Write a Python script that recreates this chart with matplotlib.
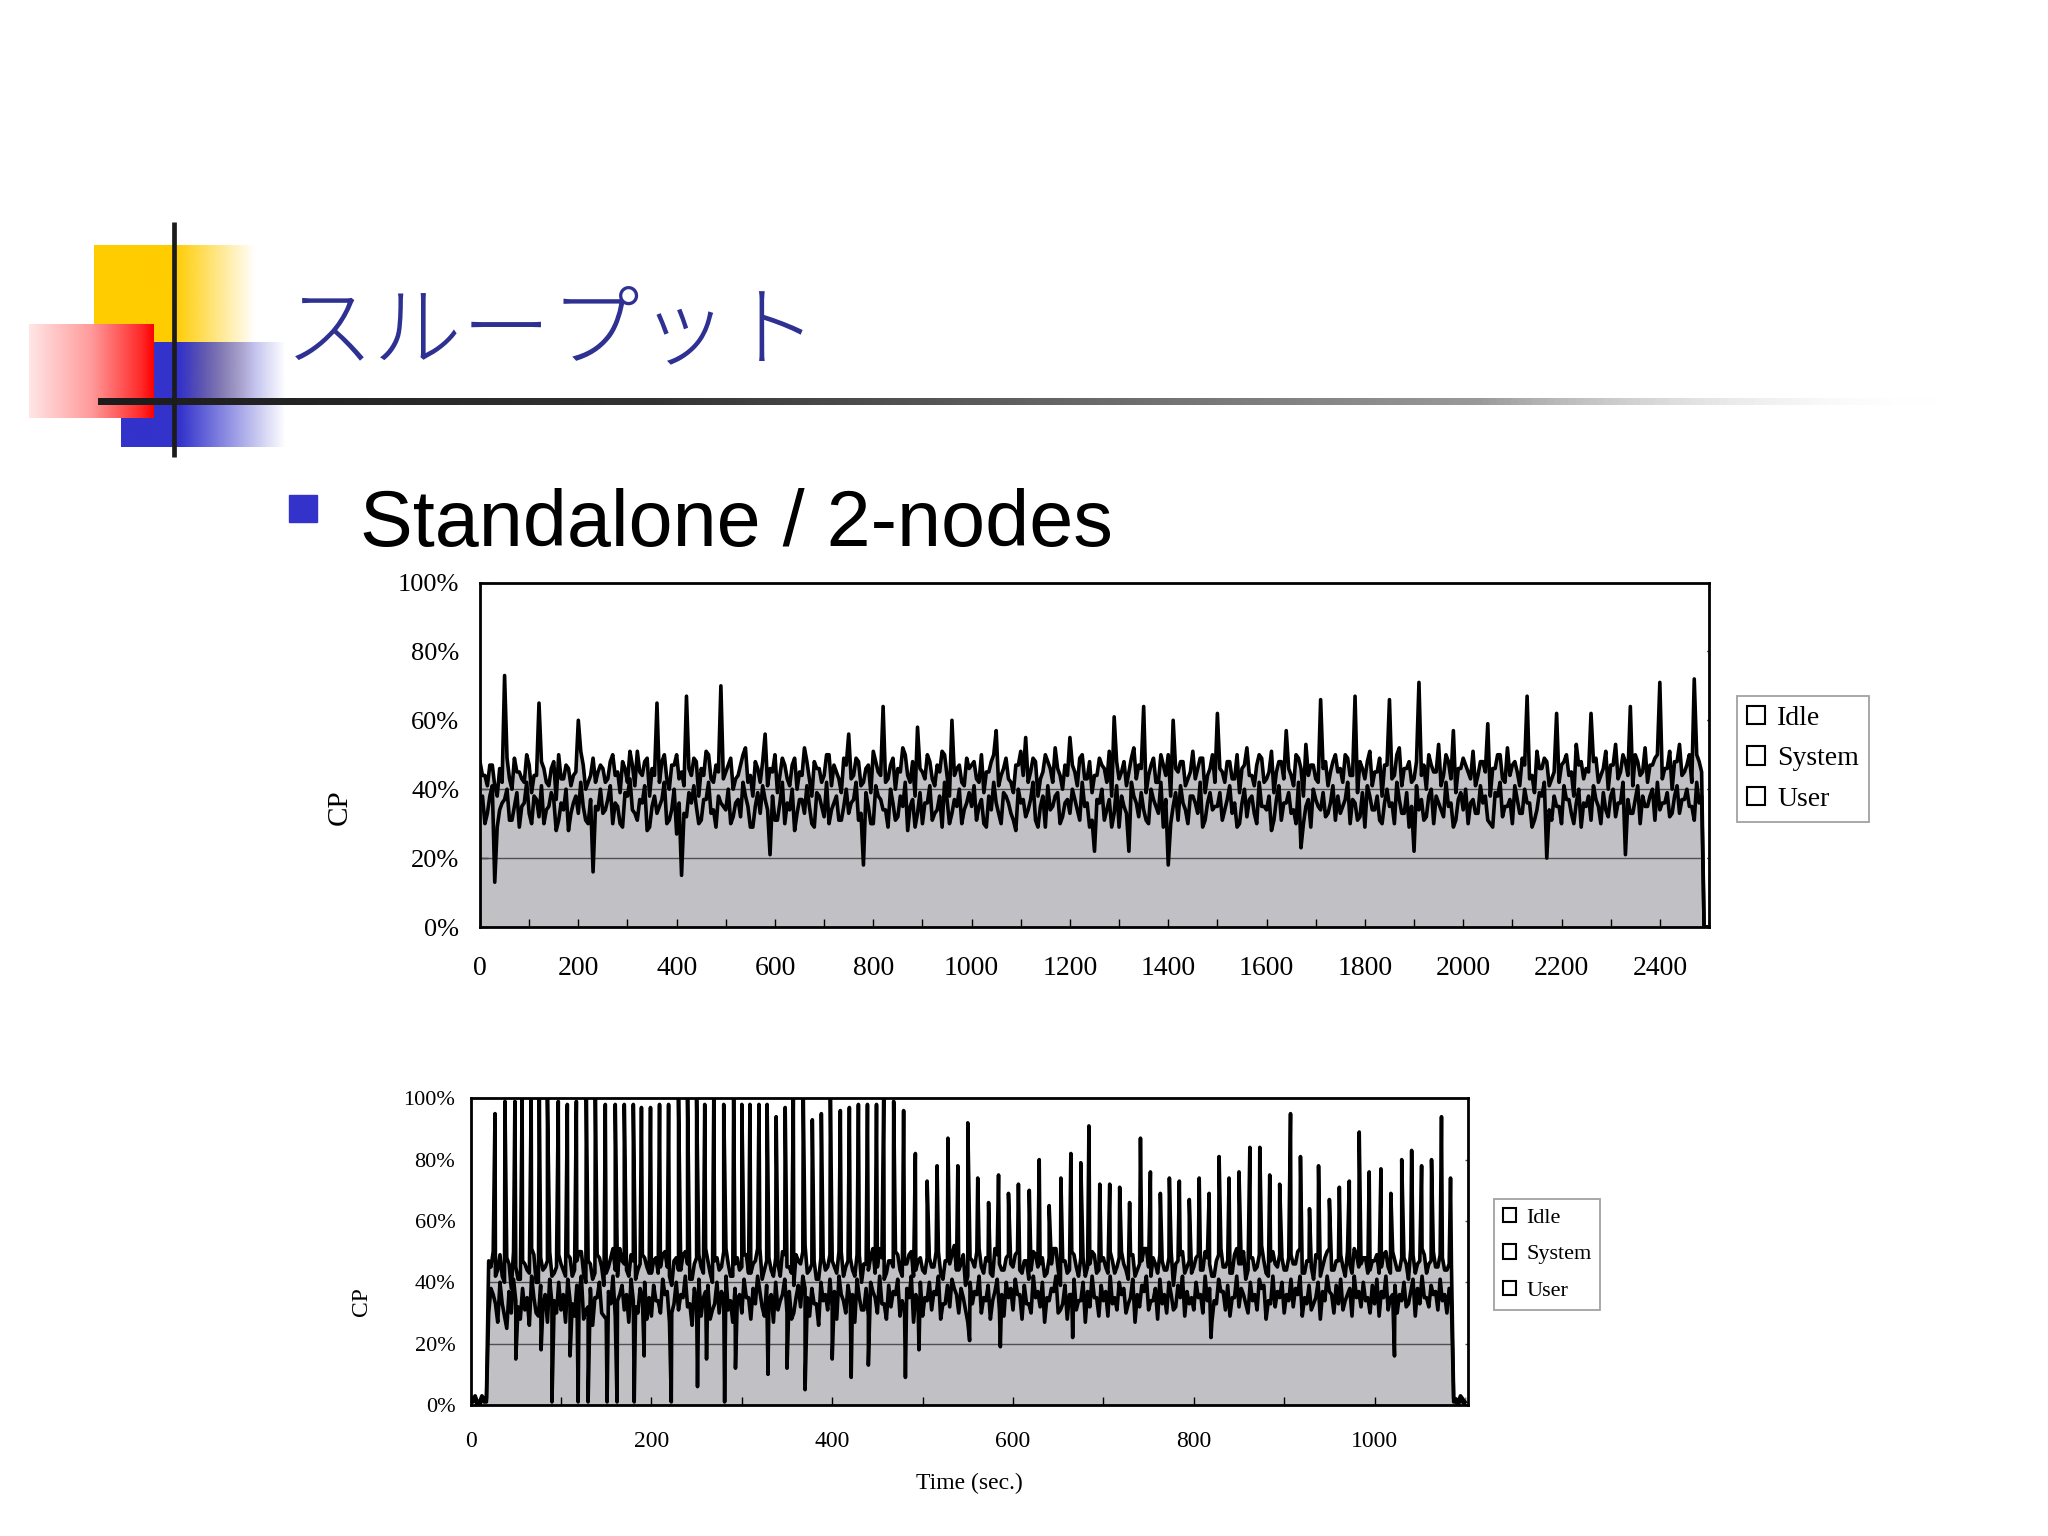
import numpy as np
import matplotlib
matplotlib.use('Agg')
import matplotlib.pyplot as plt
from matplotlib.patches import Patch, Rectangle
from matplotlib.colors import LinearSegmentedColormap
from matplotlib.ticker import MultipleLocator

# ---- data: standalone run (percent), samples at t = 0, 10, 20 ... ----
total_a = [48, 44, 47, 41, 46, 73, 43, 49, 45, 42, 47, 44, 65, 46, 41, 48, 50, 43, 46, 44, 60, 47, 42, 49, 45,
           46, 43, 50, 45, 48, 42, 47, 51, 44, 49, 46, 65, 48, 43, 47, 50, 45, 67, 44, 48, 46, 51, 43, 47, 70,
           45, 49, 43, 47, 52, 44, 48, 42, 56, 46, 50, 44, 47, 41, 49, 45, 52, 43, 48, 46, 44, 50, 47, 43, 49,
           56, 44, 48, 42, 47, 51, 45, 64, 43, 49, 46, 52, 44, 48, 58, 45, 50, 43, 47, 51, 44, 60, 46, 42, 49,
           47, 43, 50, 45, 48, 57, 44, 49, 42, 47, 51, 55, 45, 48, 43, 50, 46, 52, 44, 47, 55, 45, 49, 43, 48,
           44, 49, 46, 51, 61, 43, 48, 45, 52, 47, 64, 44, 49, 42, 47, 50, 60, 45, 48, 43, 51, 46, 49, 44, 50,
           62, 45, 48, 43, 50, 46, 52, 44, 47, 49, 43, 51, 45, 48, 57, 44, 50, 46, 53, 47, 43, 66, 48, 45, 50,
           46, 50, 44, 67, 48, 43, 51, 45, 49, 47, 66, 44, 52, 46, 48, 43, 71, 47, 50, 45, 53, 44, 48, 57, 46,
           49, 45, 51, 44, 48, 59, 46, 50, 43, 52, 47, 45, 49, 67, 44, 51, 46, 48, 43, 62, 47, 50, 45, 53, 48,
           46, 62, 49, 44, 51, 47, 53, 45, 48, 64, 50, 44, 52, 47, 49, 71, 46, 51, 48, 53, 45, 50, 72, 48, 0]
user_a = [36, 30, 38, 13, 34, 37, 31, 35, 29, 36, 33, 38, 32, 30, 35, 37, 31, 34, 28, 36, 33, 35, 30, 16, 34,
          33, 37, 30, 35, 29, 38, 34, 31, 36, 28, 35, 33, 37, 30, 34, 27, 15, 32, 36, 35, 31, 37, 33, 29, 36,
          34, 30, 36, 32, 38, 29, 35, 33, 37, 21, 31, 36, 30, 34, 28, 37, 33, 35, 29, 38, 32, 30, 36, 31, 35,
          33, 37, 31, 18, 35, 30, 38, 34, 29, 36, 32, 35, 28, 37, 33, 30, 36, 31, 34, 29, 37, 33, 35, 30, 36,
          35, 31, 37, 29, 34, 36, 30, 38, 33, 28, 36, 32, 37, 31, 35, 29, 34, 38, 30, 36, 33, 37, 31, 35, 29,
          22, 36, 31, 37, 33, 29, 35, 22, 38, 32, 34, 30, 37, 33, 29, 18, 35, 31, 36, 30, 38, 33, 29, 36, 34,
          35, 31, 37, 33, 29, 36, 32, 38, 30, 35, 34, 28, 37, 31, 36, 33, 30, 23, 35, 29, 37, 34, 32, 36, 31,
          33, 37, 30, 36, 32, 29, 38, 34, 31, 36, 35, 30, 37, 33, 29, 22, 34, 31, 38, 30, 36, 32, 35, 29, 37,
          34, 30, 37, 33, 36, 31, 29, 38, 32, 35, 30, 37, 33, 36, 29, 34, 38, 20, 31, 35, 30, 37, 33, 36, 29,
          35, 31, 37, 30, 34, 38, 32, 36, 21, 33, 37, 30, 35, 38, 31, 34, 36, 32, 38, 33, 37, 35, 31, 36, 0]
# standalone run, samples in between at t = 5, 15, 25 ...
total_a_mid = [44, 41, 47, 38, 42, 49, 40, 45, 43, 50, 39, 44, 48, 42, 46, 37, 43, 47, 41, 45, 51, 40, 44, 42, 47,
               42, 48, 44, 39, 46, 51, 41, 45, 48, 38, 44, 42, 50, 40, 47, 43, 41, 46, 49, 38, 44, 50, 42, 45, 43,
               47, 40, 44, 50, 42, 38, 46, 48, 41, 45, 39, 49, 43, 47, 40, 44, 48, 38, 46, 42, 50, 41, 45, 39, 47,
               43, 49, 41, 46, 39, 48, 44, 42, 47, 40, 45, 50, 42, 38, 46, 43, 48, 41, 45, 50, 38, 44, 47, 41, 46,
               48, 42, 39, 45, 50, 41, 46, 43, 39, 47, 44, 42, 49, 38, 45, 48, 42, 46, 40, 44, 47, 41, 50, 43, 39,
               44, 47, 42, 38, 48, 45, 41, 49, 43, 46, 39, 47, 42, 50, 44, 38, 46, 48, 41, 45, 43, 49, 39, 46, 42,
               46, 42, 48, 43, 39, 47, 44, 41, 50, 42, 45, 39, 48, 43, 46, 41, 49, 38, 44, 47, 42, 46, 41, 48, 45,
               42, 49, 44, 39, 46, 48, 41, 45, 38, 47, 43, 50, 41, 46, 42, 48, 44, 40, 47, 45, 41, 50, 43, 39, 46,
               47, 43, 41, 48, 45, 38, 46, 50, 42, 44, 48, 41, 47, 43, 39, 46, 49, 41, 45, 42, 48, 44, 38, 47, 43,
               45, 48, 42, 46, 40, 47, 43, 50, 44, 41, 48, 45, 42, 47, 50, 43, 46, 40, 48, 44, 47, 42, 50, 45, 0]
user_a_mid = [38, 33, 41, 29, 36, 40, 31, 39, 35, 42, 30, 37, 41, 34, 39, 28, 36, 40, 33, 38, 42, 31, 37, 35, 40,
              34, 41, 36, 30, 39, 43, 33, 37, 41, 29, 38, 35, 42, 31, 40, 36, 33, 39, 41, 30, 37, 42, 34, 38, 35,
              40, 32, 37, 42, 35, 29, 39, 41, 34, 38, 31, 42, 36, 40, 33, 37, 41, 30, 39, 35, 42, 34, 38, 31, 40,
              36, 42, 33, 39, 30, 41, 37, 34, 40, 31, 38, 42, 35, 29, 39, 36, 41, 33, 38, 42, 30, 37, 40, 34, 39,
              41, 35, 30, 38, 42, 33, 39, 36, 31, 40, 37, 34, 42, 29, 38, 41, 35, 39, 32, 37, 40, 34, 42, 36, 31,
              37, 40, 34, 29, 41, 38, 33, 42, 36, 39, 31, 40, 35, 42, 37, 30, 39, 41, 34, 38, 36, 42, 31, 39, 35,
              39, 34, 41, 36, 30, 40, 37, 33, 42, 35, 38, 31, 41, 36, 39, 34, 42, 30, 37, 40, 35, 39, 33, 41, 38,
              35, 42, 37, 31, 39, 41, 34, 38, 30, 40, 36, 42, 33, 39, 35, 41, 37, 32, 40, 38, 34, 42, 36, 31, 39,
              40, 36, 33, 41, 38, 30, 39, 42, 35, 37, 41, 33, 40, 36, 31, 39, 42, 34, 38, 35, 41, 37, 30, 40, 36,
              38, 41, 35, 39, 32, 40, 36, 42, 37, 33, 41, 38, 35, 40, 42, 36, 39, 33, 41, 37, 40, 35, 42, 38, 0]

# ---- data: 2-nodes run (percent), samples at t = 0, 5, 10 ... ----
total_b = [2, 3, 1, 2, 47, 50, 44, 42, 48, 38, 45, 41, 46, 43, 49, 40, 44, 47, 42, 45,
           46, 42, 48, 44, 50, 43, 47, 41, 49, 45, 43, 48, 44, 51, 46, 42, 47, 44, 49, 45,
           43, 48, 45, 50, 42, 47, 44, 49, 46, 41, 48, 45, 51, 43, 47, 44, 50, 46, 42, 48,
           45, 49, 43, 47, 51, 44, 48, 42, 46, 50, 45, 43, 49, 46, 52, 44, 47, 41, 48, 45,
           47, 43, 50, 45, 48, 42, 49, 46, 44, 51, 45, 48, 43, 47, 50, 44, 46, 49, 42, 47,
           44, 48, 45, 50, 43, 47, 46, 52, 44, 49, 42, 47, 50, 45, 48, 43, 51, 46, 44, 49,
           45, 50, 43, 47, 44, 49, 46, 42, 48, 51, 44, 47, 43, 50, 45, 48, 42, 46, 49, 44,
           48, 43, 47, 45, 50, 44, 49, 42, 46, 51, 45, 48, 43, 47, 44, 50, 46, 49, 43, 47,
           45, 49, 44, 48, 42, 47, 51, 45, 43, 49, 46, 50, 44, 48, 45, 52, 43, 47, 46, 49,
           44, 48, 46, 50, 43, 47, 45, 49, 42, 48, 51, 44, 47, 45, 50, 43, 49, 46, 48, 44,
           47, 43, 49, 45, 50, 44, 48, 46, 51, 43, 47, 49, 46, 50, 45, 48, 44, 46, 2, 3,
           1]
user_b = [1, 2, 0, 1, 30, 36, 27, 33, 25, 30, 34, 28, 31, 26, 35, 29, 32, 27, 33, 30,
          31, 27, 34, 29, 36, 28, 32, 26, 35, 30, 28, 33, 29, 36, 31, 27, 34, 30, 35, 28,
          29, 34, 30, 36, 27, 33, 31, 35, 32, 26, 34, 29, 37, 28, 33, 30, 35, 31, 27, 34,
          30, 35, 28, 33, 37, 29, 34, 27, 31, 36, 30, 28, 35, 32, 38, 29, 33, 26, 34, 31,
          32, 28, 36, 30, 34, 27, 35, 31, 29, 37, 30, 33, 28, 32, 36, 29, 31, 35, 27, 33,
          29, 34, 31, 36, 28, 33, 32, 38, 30, 35, 27, 33, 36, 30, 34, 28, 37, 31, 29, 35,
          31, 36, 28, 33, 30, 35, 32, 27, 34, 37, 30, 33, 28, 36, 31, 34, 27, 32, 35, 29,
          34, 29, 33, 31, 36, 30, 35, 27, 32, 37, 31, 34, 28, 33, 30, 36, 32, 35, 29, 33,
          31, 35, 30, 34, 27, 33, 37, 31, 29, 35, 32, 36, 30, 34, 31, 38, 28, 33, 32, 35,
          30, 34, 32, 36, 29, 33, 31, 35, 28, 34, 37, 30, 33, 31, 36, 29, 35, 32, 34, 30,
          33, 29, 35, 31, 36, 30, 34, 32, 37, 29, 33, 35, 32, 36, 31, 34, 30, 33, 1, 2,
          0]
# 2-nodes run, samples in between at t = 2.5, 7.5, 12.5 ...
total_b_mid = [2, 1, 3, 2, 45, 42, 49, 40, 46, 50, 41, 47, 44, 51, 40, 48, 45, 50, 43, 49,
               44, 49, 42, 47, 50, 40, 46, 43, 48, 39, 45, 51, 42, 47, 44, 49, 41, 46, 48, 43,
               47, 43, 49, 45, 39, 48, 44, 50, 41, 46, 49, 43, 47, 40, 48, 45, 51, 42, 46, 44,
               49, 43, 46, 51, 41, 47, 44, 48, 42, 49, 45, 39, 47, 50, 43, 46, 41, 48, 44, 49,
               45, 50, 42, 47, 44, 49, 40, 46, 48, 43, 51, 41, 47, 45, 49, 42, 46, 50, 44, 48,
               43, 48, 45, 50, 41, 47, 49, 44, 46, 39, 48, 45, 51, 43, 47, 42, 49, 44, 48, 46,
               49, 44, 47, 41, 50, 45, 48, 43, 46, 51, 39, 47, 44, 49, 42, 48, 45, 50, 43, 47,
               45, 50, 43, 48, 46, 41, 49, 44, 47, 51, 42, 46, 49, 44, 48, 39, 47, 50, 45, 43,
               48, 44, 50, 46, 42, 49, 45, 47, 43, 51, 46, 41, 48, 44, 49, 47, 42, 50, 45, 48,
               44, 49, 46, 51, 43, 47, 41, 48, 45, 50, 44, 47, 49, 42, 46, 51, 45, 48, 43, 47,
               49, 45, 50, 43, 47, 44, 48, 41, 49, 46, 51, 43, 47, 45, 49, 44, 46, 2, 1, 2]
user_b_mid = [1, 0, 2, 1, 38, 33, 40, 29, 37, 41, 32, 38, 35, 42, 30, 39, 36, 41, 34, 40,
              36, 41, 33, 39, 42, 31, 38, 35, 40, 29, 37, 42, 34, 39, 36, 41, 32, 38, 40, 35,
              39, 34, 41, 37, 30, 40, 36, 42, 33, 38, 41, 35, 39, 31, 40, 37, 42, 34, 38, 36,
              41, 35, 38, 42, 32, 39, 36, 40, 34, 41, 37, 30, 39, 42, 35, 38, 33, 40, 36, 41,
              37, 42, 34, 39, 36, 41, 31, 38, 40, 35, 42, 33, 39, 37, 41, 34, 38, 42, 36, 40,
              35, 40, 37, 42, 33, 39, 41, 36, 38, 31, 40, 37, 42, 35, 39, 34, 41, 36, 40, 38,
              41, 36, 39, 33, 42, 37, 40, 35, 38, 42, 31, 39, 36, 41, 34, 40, 37, 42, 35, 39,
              37, 42, 35, 40, 38, 33, 41, 36, 39, 42, 34, 38, 41, 36, 40, 31, 39, 42, 37, 35,
              40, 36, 42, 38, 34, 41, 37, 39, 35, 42, 38, 33, 40, 36, 41, 39, 34, 42, 37, 40,
              36, 41, 38, 42, 35, 39, 33, 40, 37, 42, 36, 39, 41, 34, 38, 42, 37, 40, 35, 39,
              41, 37, 42, 35, 39, 36, 40, 33, 41, 38, 42, 35, 39, 37, 41, 36, 38, 1, 0, 1]
# short peaks of the upper (User+System) line
spike_t = [27, 38, 49, 57, 67, 76, 85, 97, 107, 117, 128, 138, 149, 160, 170, 180, 189, 199, 209, 219,
           230, 240, 250, 259, 269, 280, 291, 300, 309, 319, 328, 338, 348, 357, 368, 378, 388, 398, 409, 419,
           429, 439, 449, 457, 468, 479,
           492, 505, 516, 528, 539, 550, 561, 573, 584, 595, 606, 618, 629, 640, 653, 664, 675, 684, 696, 707,
           718, 729, 741, 752, 763, 773, 784, 795, 806, 817, 828, 839, 850, 862, 873, 884, 895, 907, 918, 928,
           938, 950, 961, 972, 983, 994, 1007, 1018, 1030, 1041, 1052, 1063, 1074, 1084]
spike_v = [95, 99, 99, 100, 100, 100, 100, 99, 98, 99, 100, 100, 98, 98, 98, 98, 97, 97, 98, 98,
           100, 100, 100, 98, 100, 98, 100, 98, 98, 98, 98, 94, 97, 100, 100, 93, 95, 100, 96, 97,
           98, 98, 98, 100, 99, 96,
           82, 73, 78, 87, 78, 92, 74, 66, 75, 69, 72, 70, 80, 65, 74, 82, 79, 91, 72, 72,
           71, 66, 87, 76, 69, 74, 73, 67, 74, 69, 81, 74, 76, 84, 84, 75, 72, 95, 81, 64,
           78, 67, 71, 73, 89, 76, 77, 69, 80, 83, 78, 80, 94, 74]
# short drops of the lower (User) line
dip_t = [50, 78, 90, 110, 119, 130, 151, 162, 181, 192, 222, 251, 261, 281, 293, 329, 350, 370, 400, 421,
         440, 481, 496, 552, 586, 666, 819, 1022]
dip_v = [15, 18, 1, 16, 1, 1, 1, 1, 1, 16, 1, 6, 15, 1, 12, 10, 12, 5, 15, 9,
         13, 9, 18, 21, 19, 22, 22, 16]

legend_labels = ['Idle', 'System', 'User']
pct_labels = ['0%', '20%', '40%', '60%', '80%', '100%']

GRAY = '#c1c0c5'
W, H = 2048, 1536

plt.rcParams['font.family'] = ['Liberation Serif', 'DejaVu Serif']

fig = plt.figure(figsize=(W / 100, H / 100), dpi=100, facecolor='white')

# ---- slide decoration (pixel coordinates) ----
deco = fig.add_axes([0, 0, 1, 1], zorder=0)
deco.axis('off')


def grad_box(x0, x1, y0, y1, stops, z):
    cmap = LinearSegmentedColormap.from_list('g', stops)
    deco.imshow(np.linspace(0, 1, 256)[None, :], cmap=cmap, extent=(x0, x1, y1, y0),
                aspect='auto', interpolation='bilinear', zorder=z)


grad_box(94, 256, 245, 400, [(0, '#ffcc00'), (0.5, '#ffcc00'), (1, (1, 0.8, 0, 0))], 1)
grad_box(121, 286, 342, 447, [(0, '#3333cc'), (0.36, '#3333cc'), (1, (0.2, 0.2, 0.8, 0))], 2)
grad_box(29, 154, 324, 418, [(0, '#ffe6e6'), (0.5, '#ff9a9a'), (0.9, '#ff2a2a'), (1, '#ff0000')], 3)
grad_box(98, 1946, 398.5, 405.5, [(0, '#1c1c1c'), (0.3, '#333333'), (0.75, '#9a9a9a'), (1, (1, 1, 1, 0))], 4)
deco.plot([174, 174], [222, 457], color='#1c1c1c', lw=3.4, solid_capstyle='butt', zorder=5)
deco.set_xlim(0, W)
deco.set_ylim(H, 0)

deco.text(285, 333, 'スループット', color='#2e3192', fontsize=64, fontweight='light',
          family=['Noto Sans CJK JP', 'DejaVu Sans'], ha='left', va='center', zorder=6)
deco.add_patch(Rectangle((289, 495), 28, 27, color='#3333cc', zorder=6))
deco.text(360, 546, 'Standalone / 2-nodes', color='black', fontsize=57,
          family=['Liberation Sans', 'DejaVu Sans'], ha='left', va='baseline', zorder=6)


def merged(parts):
    t = np.concatenate([p[0] for p in parts]).astype(float)
    v = np.concatenate([p[1] for p in parts]).astype(float)
    o = np.argsort(t, kind='stable')
    return t[o], v[o]


def draw_panel(ax, t_tot, v_tot, t_usr, v_usr, xmax, step, fs, ypad, xpad):
    ax.fill_between(t_tot, 0, v_tot, color=GRAY, lw=0, zorder=1)
    for g in (20, 40, 60, 80):
        ax.axhline(g, color='#505050', lw=1.0, zorder=2)
    ax.fill_between(t_tot, v_tot, 100, color='white', lw=0, zorder=3)
    ax.plot(t_usr, v_usr, color='black', lw=2.6, zorder=4)
    ax.plot(t_tot, v_tot, color='black', lw=2.6, zorder=4)
    ax.set_xlim(0, xmax)
    ax.set_ylim(0, 100)
    ax.set_xticks(np.arange(0, xmax, step))
    ax.xaxis.set_minor_locator(MultipleLocator(100))
    ax.set_yticks([0, 20, 40, 60, 80, 100])
    ax.set_yticklabels(pct_labels)
    ax.tick_params(which='both', direction='in', length=6, width=1.0, top=False, right=False)
    ax.tick_params(axis='x', labelsize=fs + 1, pad=xpad)
    ax.tick_params(axis='y', labelsize=fs, pad=ypad)
    for s in ax.spines.values():
        s.set_linewidth(2.0)
        s.set_zorder(5)


def add_legend(x, y, fs, hsize, spacing, pad):
    handles = [Patch(facecolor='white', edgecolor='black', lw=1.5, label=l) for l in legend_labels]
    leg = fig.legend(handles=handles, loc='upper left', bbox_to_anchor=(x / W, 1 - y / H),
                     fontsize=fs, frameon=True, fancybox=False, edgecolor='#8a8a8a',
                     handlelength=hsize, handleheight=hsize, handletextpad=0.45,
                     labelspacing=spacing, borderpad=pad, borderaxespad=0)
    leg.get_frame().set_linewidth(1.3)


# ---- top chart: standalone ----
ta = np.arange(len(total_a)) * 10
ta_mid = ta + 5
tA, vA_tot = merged([(ta, np.maximum(total_a, user_a)), (ta_mid, total_a_mid)])
tA_u, vA_usr = merged([(ta, user_a), (ta_mid, user_a_mid)])

axA = fig.add_axes([480 / W, 1 - 927 / H, (1709 - 480) / W, (927 - 582.5) / H], zorder=2)
draw_panel(axA, tA, vA_tot, tA_u, vA_usr, 2500, 200, 19, 15, 21)
fig.text(340 / W, 1 - 807 / H, 'CP', rotation=90, fontsize=21, ha='center', va='center')
add_legend(1737, 696, 20, 0.65, 0.56, 0.35)

# ---- bottom chart: 2-nodes ----
tb = np.arange(len(total_b)) * 5
tb_mid = np.arange(len(total_b_mid)) * 5 + 2.5
tB, vB_tot = merged([(tb, total_b), (tb_mid, total_b_mid), (spike_t, spike_v)])
tB_u, vB_usr = merged([(tb, user_b), (tb_mid, user_b_mid), (dip_t, dip_v)])

axB = fig.add_axes([470.6 / W, 1 - 1405 / H, (1467.7 - 470.6) / W, (1405 - 1098.3) / H], zorder=2)
draw_panel(axB, tB, vB_tot, tB_u, vB_usr, 1103, 200, 16, 11, 19)
axB.set_xlabel('Time (sec.)', fontsize=17, labelpad=15)
fig.text(361 / W, 1 - 1302 / H, 'CP', rotation=90, fontsize=17, ha='center', va='center')
add_legend(1494, 1199, 16, 0.6, 0.75, 0.4)

fig.savefig('out.png', dpi=100, facecolor='white')
